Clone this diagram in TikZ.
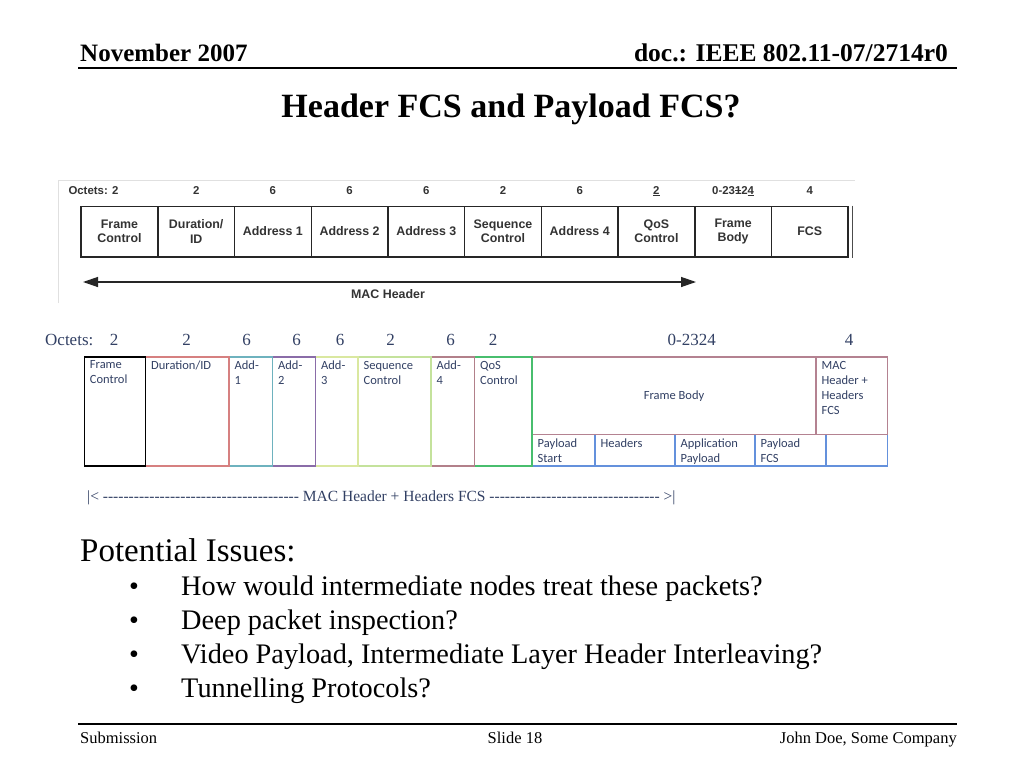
\documentclass[tikz,border=0pt]{standalone}
\usepackage{fontspec}
\setmainfont{Liberation Serif}
\newfontfamily\arialf{Liberation Sans}
\newfontfamily\calif{Carlito}
\usetikzlibrary{arrows.meta,fit,positioning}
\ExplSyntaxOn
\NewDocumentCommand\hyrun{m}{\prg_replicate:nn{#1}{\mbox{-}}}
\ExplSyntaxOff
\newsavebox\markbox
\newcommand\strk[1]{\sbox\markbox{#1}\makebox[0pt][l]{\rule[0.32em]{\wd\markbox}{0.7pt}}\usebox\markbox}
\newcommand\undl[1]{\sbox\markbox{#1}\makebox[0pt][l]{\rule[-0.16em]{\wd\markbox}{0.7pt}}\usebox\markbox}
\definecolor{slate}{RGB}{50,64,100}
\definecolor{durc}{RGB}{214,128,128}
\definecolor{aonec}{RGB}{110,178,190}
\definecolor{atwoc}{RGB}{138,108,168}
\definecolor{athreec}{RGB}{218,232,160}
\definecolor{seqc}{RGB}{196,226,156}
\definecolor{afourc}{RGB}{178,128,138}
\definecolor{qosc}{RGB}{72,190,110}
\definecolor{bodyc}{RGB}{180,130,145}
\definecolor{payc}{RGB}{100,145,220}
\tikzset{
  fld/.style={draw=black!85, line width=1.5pt, minimum width=76.7pt, minimum height=50.5pt,
    inner sep=0pt, align=center, text=black!80, font=\arialf\bfseries\fontsize{12.4}{14.3}\selectfont},
  oct/.style={text=black!80, font=\arialf\bfseries\fontsize{11.4}{13}\selectfont},
  octb/.style={anchor=base, text=slate, font=\fontsize{17}{20}\selectfont},
  cell/.style={inner sep=0pt, line width=1.1pt},
  lbl/.style={anchor=north west, inner xsep=6pt, inner ysep=4.5pt, align=left, text=slate,
    font=\calif\fontsize{12.5}{15}\selectfont},
  slide/.style={anchor=base west, inner sep=0pt},
}
\begin{document}
\begin{tikzpicture}[x=1pt,y=-1pt]
  \fill[white] (0,0) rectangle (1024,768);
  \useasboundingbox (0,0) rectangle (1024,768);
  \node[slide, font=\bfseries\fontsize{25}{30}\selectfont] (month) at (80,61.5) {November 2007};
  \node[anchor=base east, inner sep=0pt, font=\bfseries\fontsize{25.5}{30}\selectfont] (doc) at (948,61.5) {doc.: IEEE 802.11-07/2714r0};
  \coordinate (hl) at (78,68);
  \coordinate (hr) at (957,68);
  \draw[line width=1.6pt] (hl) -- (hr);
  \node[anchor=base, inner sep=0pt, font=\bfseries\fontsize{34}{40}\selectfont] (title) at (511,117.5) {Header FCS and Payload FCS?};
  \draw[black!12, line width=0.8pt] (58,303) -- (58,180) -- (855,180);
  \node[oct, anchor=west] (hoct) at (65,191) {Octets: 2};
  \draw
    (196.2,191) node[oct] (ho2) {2}
    (272.9,191) node[oct] (ho3) {6}
    (349.6,191) node[oct] (ho4) {6}
    (426.3,191) node[oct] (ho5) {6}
    (503,191) node[oct] (ho6) {2}
    (579.7,191) node[oct] (ho7) {6}
    (656.4,191) node[oct] (ho8) {\undl{2}}
    (733.1,191) node[oct] (ho9) {0-23\strk{1}2\undl{4}}
    (809.8,191) node[oct] (ho10) {4};
  \node[fld] (hfc) at (119.5,231.5) {Frame\\Control};
  \node[fld] (hdur) at (196.2,231.5) {Duration/\\ID};
  \node[fld] (had1) at (272.9,231.5) {Address 1};
  \node[fld] (had2) at (349.6,231.5) {Address 2};
  \node[fld] (had3) at (426.3,231.5) {Address 3};
  \node[fld] (hseq) at (503,231.5) {Sequence\\Control};
  \node[fld] (had4) at (579.7,231.5) {Address 4};
  \node[fld] (hqos) at (656.4,231.5) {QoS\\Control};
  \node[fld] (hbody) at (733.1,231.5) {Frame\\Body};
  \node[fld] (hfcs) at (809.8,231.5) {FCS};
  \draw[line width=1.6pt, black!70] ([xshift=3.5pt]hfcs.north east) -- ([xshift=3.5pt]hfcs.south east);
  \coordinate (mhl) at (83,282);
  \coordinate (mhr) at (696,282);
  \draw[line width=1.3pt, black!85, {Triangle[length=15pt,width=10pt]}-{Triangle[length=15pt,width=10pt]}] (mhl) -- (mhr);
  \node[oct, font=\arialf\bfseries\fontsize{12.4}{14}\selectfont] (mh) at (388,294.5) {MAC Header};
  \node[anchor=base west, inner sep=0pt, text=slate, font=\fontsize{17}{20}\selectfont] (oct) at (45,345) {Octets:};
  \draw
    (114,345) node[octb] (o1) {2}
    (186.7,345) node[octb] (o2) {2}
    (246.7,345) node[octb] (o3) {6}
    (296.7,345) node[octb] (o4) {6}
    (340,345) node[octb] (o5) {6}
    (390.7,345) node[octb] (o6) {2}
    (450.7,345) node[octb] (o7) {6}
    (493,345) node[octb] (o8) {2}
    (691.7,345) node[octb] (o9) {0-2324}
    (849,345) node[octb] (o10) {4};
  \node[cell, draw=payc, fit={(532,434.5) (595,466)}] (ps) {};
  \node[cell, draw=payc, fit={(595,434.5) (675,466)}] (hd) {};
  \node[cell, draw=payc, fit={(675,434.5) (755,466)}] (ap) {};
  \node[cell, draw=payc, fit={(755,434.5) (826,466)}] (pf) {};
  \node[cell, draw=payc, fit={(826,434.5) (887.5,466)}] (pe) {};
  \node[cell, draw=bodyc, fit={(532,357) (816,434.5)}] (fb) {};
  \node[cell, draw=bodyc, fit={(816,357) (887.5,434.5)}] (mhf) {};
  \node[cell, draw=qosc, fit={(474.5,357) (532,466)}] (qos) {};
  \node[cell, draw=afourc, fit={(431,357) (474.5,466)}] (ad4) {};
  \node[cell, draw=seqc, fit={(358,357) (431,466)}] (seq) {};
  \node[cell, draw=athreec, fit={(315.5,357) (358,466)}] (ad3) {};
  \node[cell, draw=atwoc, fit={(272.5,357) (315.5,466)}] (ad2) {};
  \node[cell, draw=aonec, fit={(229,357) (272.5,466)}] (ad1) {};
  \node[cell, draw=durc, fit={(145.5,357) (229,466)}] (dur) {};
  \node[cell, draw=black, line width=1.6pt, fit={(84.5,357) (145.5,466)}] (fc) {};
  \node[lbl] at (fc.north west) {Frame\\Control};
  \node[lbl] at (dur.north west) {Duration/ID};
  \node[lbl] at (ad1.north west) {Add-\\1};
  \node[lbl] at (ad2.north west) {Add-\\2};
  \node[lbl] at (ad3.north west) {Add-\\3};
  \node[lbl] at (seq.north west) {Sequence\\Control};
  \node[lbl] at (ad4.north west) {Add-\\4};
  \node[lbl] at (qos.north west) {QoS\\Control};
  \node[lbl, anchor=center, align=center] at (fb.center) {Frame Body};
  \node[lbl] at (mhf.north west) {MAC\\Header +\\Headers\\FCS};
  \node[lbl] at (ps.north west) {Payload\\Start};
  \node[lbl] at (hd.north west) {Headers};
  \node[lbl] at (ap.north west) {Application\\Payload};
  \node[lbl] at (pf.north west) {Payload\\FCS};
  \node[anchor=base west, inner sep=0pt, text=slate, font=\fontsize{15.5}{18}\selectfont] (span) at (87,501)
    {|< \hyrun{38} MAC Header + Headers FCS \hyrun{33} >|};
  \node[slide, font=\fontsize{33}{38}\selectfont] (issues) at (80,561) {Potential Issues:};
  \draw
    (134,595) node[anchor=base, font=\fontsize{28}{32}\selectfont] (d1) {\textbullet}
    (134,629) node[anchor=base, font=\fontsize{28}{32}\selectfont] (d2) {\textbullet}
    (134,663) node[anchor=base, font=\fontsize{28}{32}\selectfont] (d3) {\textbullet}
    (134,697) node[anchor=base, font=\fontsize{28}{32}\selectfont] (d4) {\textbullet};
  \node[slide, font=\fontsize{28.3}{32}\selectfont] (i1) at (181,595) {How would intermediate nodes treat these packets?};
  \node[slide, font=\fontsize{28.3}{32}\selectfont] (i2) at (181,629) {Deep packet inspection?};
  \node[slide, font=\fontsize{28.3}{32}\selectfont] (i3) at (181,663) {Video Payload, Intermediate Layer Header Interleaving?};
  \node[slide, font=\fontsize{28.3}{32}\selectfont] (i4) at (181,697) {Tunnelling Protocols?};
  \coordinate (fl) at (78,724);
  \coordinate (fr) at (957,724);
  \draw[line width=1.6pt] (fl) -- (fr);
  \node[slide, font=\fontsize{16.5}{20}\selectfont] (sub) at (80,743) {Submission};
  \node[anchor=base, inner sep=0pt, font=\fontsize{16.5}{20}\selectfont] (slide) at (515,743) {Slide 18};
  \node[anchor=base east, inner sep=0pt, font=\fontsize{16.5}{20}\selectfont] (auth) at (957,743) {John Doe, Some Company};
\end{tikzpicture}
\end{document}
